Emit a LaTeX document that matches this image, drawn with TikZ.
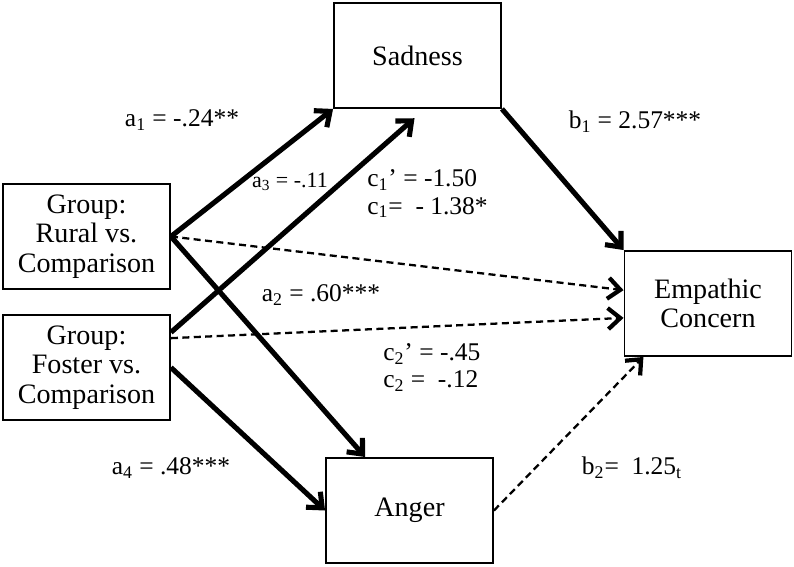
\documentclass[tikz,border=0pt]{standalone}
\usepackage{fontspec}
\setmainfont{Liberation Serif}
\usetikzlibrary{arrows.meta, positioning}
\definecolor{linecolor}{HTML}{000000}

\begin{document}
\begin{tikzpicture}[
        x=0.02cm, y=-0.02cm,
        box/.style={
            rectangle,
            draw=linecolor,
            line width=1.1pt,
            minimum width=3.34cm,
            minimum height=2.1cm,
            align=center,
            font=\fontsize{16}{16.8}\selectfont
        },
        coef/.style={inner sep=0pt, font=\fontsize{14.5}{15.5}\selectfont},
        coefsmall/.style={inner sep=0pt, font=\fontsize{12.5}{13}\selectfont},
        solidarrow/.style={-{Straight Barb[length=7pt,width=12pt]}, line width=2.9pt, draw=linecolor},
        dasharrow/.style={-{Straight Barb[length=7pt,width=12pt,line width=2.4pt]}, line width=1.3pt,
            dash pattern=on 4pt off 2.5pt, draw=linecolor}
    ]
        \useasboundingbox (0,0) rectangle (794,567);

        % Nodes
        \node[box] (sadness) at (417.5,55.5) {Sadness};
        \node[box] (rural) at (86.5,236.5) {Group:\\Rural vs.\\Comparison};
        \node[box] (foster) at (86.5,367.5) {Group:\\Foster vs.\\Comparison};
        \node[box] (anger) at (409.5,510.5) {Anger};
        \node[box] (empathic) at (708,303.5) {Empathic\\Concern};

        % Arrows
        \draw[solidarrow] (rural.east) -- (sadness.south west);
        \draw[solidarrow] (rural.east) -- ([xshift=-25.2pt]anger.north);
        \draw[dasharrow] (rural.east) -- ([yshift=7.6pt]empathic.west);

        \draw[solidarrow, shorten >=8pt] ([yshift=20pt]foster.east) -- ([xshift=4.3pt]sadness.south);
        \draw[dasharrow] ([yshift=16.7pt]foster.east) -- ([yshift=-8.2pt]empathic.west);
        \draw[solidarrow] (foster.east) -- (anger.west);

        \draw[solidarrow] (sadness.south east) -- (empathic.north west);
        \draw[dasharrow] (anger.east) -- ([xshift=11.3pt]empathic.south west);

        % Coefficients
        \node[coef] (aone) at (182,120) {a\textsubscript{1} = -.24**};
        \node[coefsmall] (athree) at (290,182) {a\textsubscript{3} = -.11};
        \node[coef, anchor=west, align=left] (cone) at (367,194) {c\textsubscript{1}’ = -1.50\\c\textsubscript{1}=~~- 1.38*};
        \node[coef] (atwo) at (321,295) {a\textsubscript{2} = .60***};
        \node[coef, anchor=west, align=left] (ctwo) at (383,367.5) {c\textsubscript{2}’ = -.45\\c\textsubscript{2} =~~-.12};
        \node[coef] (afour) at (171,468) {a\textsubscript{4} = .48***};
        \node[coef] (bone) at (635,122) {b\textsubscript{1} = 2.57***};
        \node[coef] (btwo) at (632,468) {b\textsubscript{2}=~~1.25\textsubscript{t}};

    \end{tikzpicture}
\end{document}
